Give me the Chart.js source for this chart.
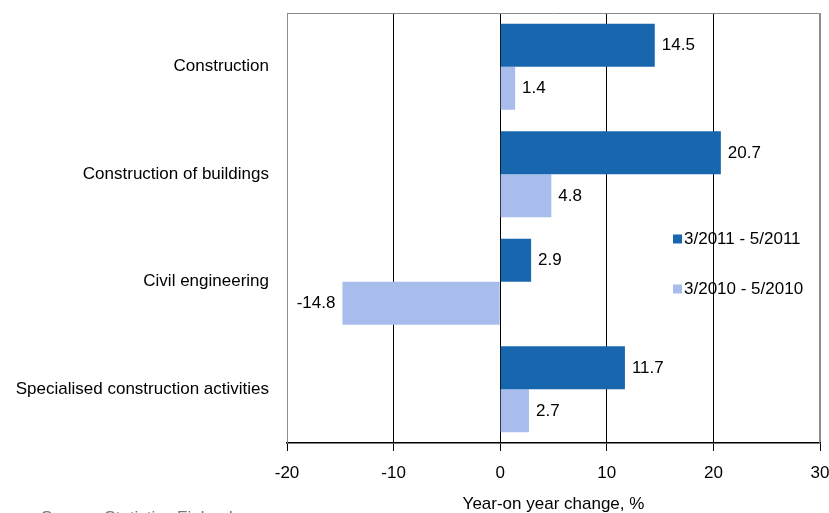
<!DOCTYPE html>
<html>
<head>
<meta charset="utf-8">
<script src="https://cdn.jsdelivr.net/npm/chart.js@4"></script>
<style>
  html, body { margin: 0; padding: 0; background: #fff; }
  #wrap { width: 829px; height: 513px; position: relative; }
</style>
</head>
<body>
<div id="wrap"><canvas id="c"></canvas></div>
<script>
const categories = ["Construction", "Construction of buildings", "Civil engineering", "Specialised construction activities"];
const series2011 = [14.5, 20.7, 2.9, 11.7];
const series2010 = [1.4, 4.8, -14.8, 2.7];
const seriesNames = ["3/2011 - 5/2011", "3/2010 - 5/2010"];
const xTicksMin = -20, xTicksMax = 30, xTickStep = 10;
const axisTitle = "Year-on year change, %";
const sourceText = "Source: Statistics Finland";

const FONT = "'Liberation Sans', Arial, sans-serif";
const colors = ["#1866AE", "#A8BDEB"];

const framePlugin = {
  id: 'frame',
  beforeDatasetsDraw(chart) {
    const {ctx, chartArea: a} = chart;
    ctx.save();
    ctx.strokeStyle = '#8c8c8c';
    ctx.lineWidth = 1;
    ctx.beginPath();
    ctx.moveTo(a.left + 0.5, a.bottom);
    ctx.lineTo(a.left + 0.5, a.top + 0.5);
    ctx.lineTo(a.right - 0.5, a.top + 0.5);
    ctx.lineTo(a.right - 0.5, a.bottom);
    ctx.stroke();
    ctx.restore();
  }
};

const labelPlugin = {
  id: 'vals',
  afterDatasetsDraw(chart) {
    const {ctx} = chart;
    ctx.save();
    ctx.font = "17px " + FONT;
    ctx.fillStyle = '#000';
    ctx.textBaseline = 'middle';
    chart.data.datasets.forEach((ds, di) => {
      const meta = chart.getDatasetMeta(di);
      meta.data.forEach((bar, i) => {
        const v = ds.data[i];
        const txt = v.toFixed(1);
        if (v >= 0) {
          ctx.textAlign = 'left';
          ctx.fillText(txt, bar.x + 7, bar.y + 0.5);
        } else {
          ctx.textAlign = 'right';
          ctx.fillText(txt, bar.x - 7, bar.y + 0.5);
        }
      });
    });
    // legend
    const lx = 673, ly = [239, 289];
    ctx.textAlign = 'left';
    chart.data.datasets.forEach((ds, di) => {
      ctx.fillStyle = ds.backgroundColor;
      ctx.fillRect(lx, ly[di] - 4.5, 9, 9);
      ctx.fillStyle = '#000';
      ctx.fillText(ds.label, lx + 11, ly[di] + 0.5);
    });
    // source (cut off at bottom)
    ctx.fillStyle = '#777';
    ctx.textBaseline = 'top';
    ctx.fillText(sourceText, 41, 510);
    ctx.restore();
  }
};

new Chart(document.getElementById('c'), {
  type: 'bar',
  data: {
    labels: categories,
    datasets: [
      { label: seriesNames[0], data: series2011, backgroundColor: colors[0], borderWidth: 0 },
      { label: seriesNames[1], data: series2010, backgroundColor: colors[1], borderWidth: 0 }
    ]
  },
  options: {
    indexAxis: 'y',
    responsive: true,
    maintainAspectRatio: false,
    animation: false,
    categoryPercentage: 0.8,
    barPercentage: 1.0,
    layout: { padding: { top: 13, right: 9, left: 0, bottom: 0 } },
    plugins: { legend: { display: false }, tooltip: { enabled: false } },
    scales: {
      x: {
        min: xTicksMin, max: xTicksMax,
        ticks: { stepSize: xTickStep, color: '#000', font: { family: FONT, size: 17 }, padding: 12, maxRotation: 0 },
        grid: {
          color: (c) => (c.tick && (c.tick.value === xTicksMin || c.tick.value === xTicksMax)) ? '#8c8c8c' : '#000',
          tickColor: '#000', tickLength: 8, lineWidth: 1
        },
        border: { display: true, color: '#000', width: 1.5 },
        title: { display: true, text: axisTitle, color: '#000', font: { family: FONT, size: 17 }, padding: { top: 0, bottom: -2 } },
        afterFit(s) { s.height = 70; s.paddingLeft = 0; s.paddingRight = 0; }
      },
      y: {
        ticks: { color: '#000', font: { family: FONT, size: 17 }, padding: 18 },
        grid: { display: false, drawTicks: false },
        border: { display: false },
        afterFit(s) { s.width = 287; s.paddingTop = 0; s.paddingBottom = 0; }
      }
    }
  },
  plugins: [framePlugin, labelPlugin]
});
</script>
</body>
</html>
